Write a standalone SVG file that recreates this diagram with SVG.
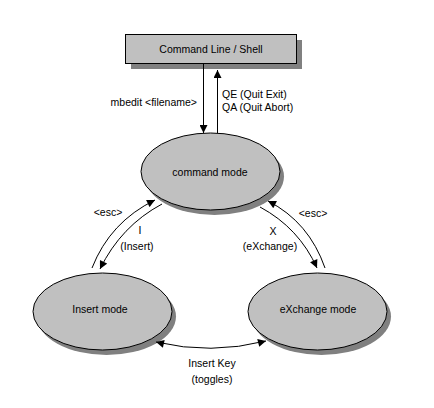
<svg xmlns="http://www.w3.org/2000/svg" width="434" height="408" viewBox="0 0 434 408">
<defs>
<style>
text{font-family:"Liberation Sans",Arial,sans-serif;font-size:10.5px;fill:#000;text-anchor:middle}
.shadow{fill:#808080;stroke:none}
.node{fill:#c0c0c0;stroke:#000;stroke-width:1}
.conn{fill:none;stroke:#000;stroke-width:1}
</style>
<marker id="ah" viewBox="0 0 10 10" refX="10" refY="5" markerWidth="10" markerHeight="8" markerUnits="userSpaceOnUse" orient="auto-start-reverse">
<path d="M0,0 L10,5 L0,10 z" fill="#000"/>
</marker>
</defs>
<rect width="434" height="408" fill="#fff"/>
<g id="shell">
<rect class="shadow" x="131" y="40" width="171" height="29"/>
<rect class="node" x="125.5" y="34.5" width="171" height="29"/>
<text x="211" y="53">Command Line / Shell</text>
</g>
<g id="command-mode">
<ellipse class="shadow" cx="214.5" cy="176.5" rx="69.5" ry="38.5"/>
<ellipse class="node" cx="210.5" cy="171.5" rx="69.5" ry="38.5"/>
<text x="210" y="176">command mode</text>
</g>
<g id="insert-mode">
<ellipse class="shadow" cx="106.5" cy="316.5" rx="69.5" ry="38.5"/>
<ellipse class="node" cx="102.5" cy="311.5" rx="69.5" ry="38.5"/>
<text x="100" y="313">Insert mode</text>
</g>
<g id="exchange-mode">
<ellipse class="shadow" cx="321.5" cy="316.5" rx="69.5" ry="38.5"/>
<ellipse class="node" cx="317.5" cy="311.5" rx="69.5" ry="38.5"/>
<text x="318" y="313">eXchange mode</text>
</g>
<g id="connectors">
<line class="conn" x1="203.5" y1="64" x2="203.5" y2="133" marker-end="url(#ah)"/>
<line class="conn" x1="217.5" y1="133" x2="217.5" y2="70" marker-end="url(#ah)"/>
<path class="conn" d="M92,268 Q110,222 155,200" marker-end="url(#ah)"/>
<path class="conn" d="M162,204 Q121,226 100,269" marker-end="url(#ah)"/>
<path class="conn" d="M260,207 Q299,228 317,268" marker-end="url(#ah)"/>
<path class="conn" d="M325,268 Q309,222 268,201" marker-end="url(#ah)"/>
<path class="conn" d="M156,342 Q211,355 266,341" marker-start="url(#ah)" marker-end="url(#ah)"/>
</g>
<g id="labels">
<text x="197" y="106" style="text-anchor:end">mbedit &lt;filename&gt;</text>
<text x="222" y="98" style="text-anchor:start">QE (Quit Exit)</text>
<text x="222" y="111" style="text-anchor:start">QA (Quit Abort)</text>
<text x="108" y="216">&lt;esc&gt;</text>
<text x="140" y="234">I</text>
<text x="137" y="250">(Insert)</text>
<text x="313" y="217">&lt;esc&gt;</text>
<text x="273" y="235">X</text>
<text x="270" y="250">(eXchange)</text>
<text x="212" y="367">Insert Key</text>
<text x="212" y="383">(toggles)</text>
</g>
</svg>
